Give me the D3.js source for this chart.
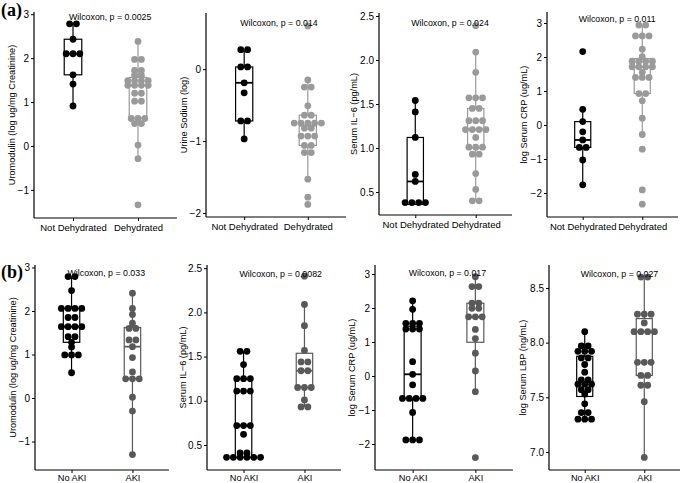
<!DOCTYPE html>
<html><head><meta charset="utf-8">
<script src="https://cdn.jsdelivr.net/npm/d3@7/dist/d3.min.js"></script>
<style>
html,body{margin:0;padding:0;background:#fff;}
svg text{font-family:"Liberation Sans",Arial,sans-serif;}
</style></head>
<body><svg id="chart" width="684" height="483"></svg>
<script>
// ---------------- DATA ----------------
const groupsA = ["Not Dehydrated", "Dehydrated"];
const groupsB = ["No AKI", "AKI"];

const uromodA_nd = [2.78, 2.78, 2.43, 2.10, 2.10, 2.10, 1.62, 1.41, 0.91];
const uromodA_d = [2.38, 1.97, 1.97, 1.72, 1.72, 1.62, 1.60, 1.52, 1.50, 1.48, 1.45, 1.40, 1.40, 1.38, 1.36,
  1.20, 1.20, 1.02, 1.02, 0.65, 0.62, 0.60, 0.52, 0.50, 0.02, -0.29, -1.34];

const sodiumA_nd = [0.27, 0.27, 0.03, 0.03, -0.19, -0.33, -0.72, -0.72, -0.97];
const sodiumA_d = [0.60, -0.15, -0.25, -0.25, -0.51, -0.64, -0.64, -0.75, -0.75, -0.75, -0.75, -0.75,
  -0.82, -0.82, -0.93, -0.93, -0.93, -1.06, -1.06, -1.16, -1.16, -1.53, -1.78, -1.88];

const il6A_nd = [1.54, 1.41, 1.12, 0.70, 0.62, 0.40, 0.36, 0.36, 0.36];
const il6A_d = [2.39, 2.09, 1.86, 1.57, 1.57, 1.57, 1.45, 1.45, 1.31, 1.31, 1.31, 1.21, 1.21, 1.21, 1.21,
  1.12, 1.02, 1.02, 1.00, 0.93, 0.93, 0.71, 0.53, 0.40, 0.40];

const crpA_nd = [2.16, 0.46, 0.10, -0.20, -0.44, -0.66, -0.66, -1.03, -1.76];
const crpA_d = [2.94, 2.94, 2.62, 2.62, 2.62, 2.23, 2.01, 1.90, 1.90, 1.88, 1.85, 1.71, 1.71, 1.71, 1.71,
  1.55, 1.40, 1.40, 1.40, 0.95, 0.90, 0.71, 0.20, -0.28, -0.71, -1.91, -2.33];

const uromodB_no = [2.79, 2.79, 2.47, 2.06, 2.06, 2.06, 2.06, 1.85, 1.85, 1.64, 1.64, 1.64, 1.64, 1.41, 1.41,
  1.28, 1.17, 0.99, 0.99, 0.99, 0.58];
const uromodB_aki = [2.41, 2.06, 1.92, 1.72, 1.62, 1.58, 1.37, 1.30, 1.18, 0.93, 0.60, 0.45, 0.45, 0.43,
  0.02, -0.30, -1.30];

const il6B_no = [1.56, 1.56, 1.41, 1.25, 1.25, 1.25, 1.11, 1.11, 1.11, 0.72, 0.72, 0.72, 0.62, 0.41, 0.41,
  0.36, 0.36, 0.36, 0.36, 0.36, 0.36];
const il6B_aki = [2.41, 2.09, 1.85, 1.57, 1.44, 1.44, 1.34, 1.34, 1.15, 1.15, 1.15, 1.01, 0.93, 0.93];

const crpB_no = [2.21, 1.96, 1.55, 1.55, 1.55, 1.38, 1.38, 1.38, 0.42, 0.05, -0.26, -0.66, -0.66, -0.66,
  -0.66, -1.07, -1.88, -1.88, -1.88];
const crpB_aki = [2.92, 2.63, 2.63, 2.14, 2.14, 1.99, 1.99, 1.74, 1.74, 1.74, 1.37, 1.10, 0.67, 0.15, -0.46, -2.40];

const lbpB_no = [8.10, 7.97, 7.97, 7.92, 7.92, 7.92, 7.86, 7.86, 7.80, 7.73, 7.66, 7.66, 7.62, 7.62, 7.62,
  7.57, 7.57, 7.53, 7.44, 7.36, 7.36, 7.30, 7.30, 7.30];
const lbpB_aki = [8.60, 8.60, 8.26, 8.26, 8.26, 8.18, 8.10, 8.10, 8.10, 8.10, 7.82, 7.82, 7.82, 7.70, 7.70,
  7.61, 7.61, 7.46, 6.95];

const yLabels = ["Uromodulin (log ug/mg Creatinine)", "Urine Sodium (log)", "Serum IL\u22126 (pg/mL)",
  "log Serum CRP (ug/mL)", "Uromodulin (log ug/mg Creatinine)", "Serum IL\u22126 (pg/mL)",
  "log Serum CRP (ug/mL)", "log Serum LBP (ng/mL)"];
const pLabels = ["Wilcoxon, p = 0.0025", "Wilcoxon, p = 0.014", "Wilcoxon, p = 0.024", "Wilcoxon, p = 0.011",
  "Wilcoxon, p = 0.033", "Wilcoxon, p = 0.0082", "Wilcoxon, p = 0.017", "Wilcoxon, p = 0.027"];
const tickSets = [
  [-1, 0, 1, 2, 3], [-2, -1, 0], [0.5, 1.0, 1.5, 2.0, 2.5], [-2, -1, 0, 1, 2, 3],
  [-1, 0, 1, 2, 3], [0.5, 1.0, 1.5, 2.0, 2.5], [-2, -1, 0, 1, 2, 3], [7.0, 7.5, 8.0, 8.5]
];
const tickFormats = ["d", "d", ".1f", "d", "d", ".1f", "d", ".1f"];
const labelYs = [2.93, 0.64, 2.42, 3.11, 2.88, 2.43, 3.02, 8.63];
const panelTags = ["(a)", "(b)"];

// ---------------- LAYOUT ----------------
const colorsA = ["#000000", "#9a9a9a"];
const colorsB = ["#000000", "#595959"];
const layouts = [
  {x0: 34, x1: 177, y0: 12, y1: 218, dom: [-1.64, 3.05], tOff: 22},
  {x0: 206, x1: 346, y0: 13, y1: 217, dom: [-2.055, 0.78], tOff: 22},
  {x0: 379, x1: 512, y0: 13, y1: 215, dom: [0.239, 2.534], tOff: 25},
  {x0: 547, x1: 678, y0: 12, y1: 217, dom: [-2.706, 3.324], tOff: 23},
  {x0: 35, x1: 169, y0: 265, y1: 470, dom: [-1.655, 3.057], tOff: 22},
  {x0: 207, x1: 341, y0: 265, y1: 470, dom: [0.217, 2.536], tOff: 24},
  {x0: 375, x1: 513, y0: 265, y1: 470, dom: [-2.765, 3.265], tOff: 23},
  {x0: 549, x1: 680, y0: 265, y1: 470, dom: [6.835, 8.71], tOff: 26}
];
const seriesSets = [
  [uromodA_nd, uromodA_d], [sodiumA_nd, sodiumA_d], [il6A_nd, il6A_d], [crpA_nd, crpA_d],
  [uromodB_no, uromodB_aki], [il6B_no, il6B_aki], [crpB_no, crpB_aki], [lbpB_no, lbpB_aki]
];

const svg = d3.select("#chart");
const R = 3.4;

function dotBins(vals, bw) {
  const s = vals.slice().sort((a, b) => a - b);
  const out = [];
  let i = 0;
  while (i < s.length) {
    const start = s[i];
    let j = i;
    while (j < s.length && s[j] < start + bw - 1e-9) j++;
    const grp = s.slice(i, j);
    out.push({center: (grp[0] + grp[grp.length - 1]) / 2, count: grp.length});
    i = j;
  }
  return out;
}

seriesSets.forEach((series, pi) => {
  const L = layouts[pi];
  const groups = pi < 4 ? groupsA : groupsB;
  const colors = pi < 4 ? colorsA : colorsB;
  const g = svg.append("g");

  const x = d3.scalePoint().domain(groups).range([L.x0, L.x1]).padding(0.6);
  const y = d3.scaleLinear().domain(L.dom).range([L.y1, L.y0]);
  const step = x.step();
  const bw = step * 0.27;

  // boxes
  series.forEach((vals, gi) => {
    const s = vals.slice().sort((a, b) => a - b);
    const q1 = d3.quantile(s, 0.25), med = d3.quantile(s, 0.5), q3 = d3.quantile(s, 0.75);
    const iqr = q3 - q1;
    const lo = d3.min(s.filter(v => v >= q1 - 1.5 * iqr));
    const hi = d3.max(s.filter(v => v <= q3 + 1.5 * iqr));
    const cx = x(groups[gi]);
    const col = colors[gi];
    g.append("line").attr("x1", cx).attr("x2", cx).attr("y1", y(q3)).attr("y2", y(hi))
      .attr("stroke", col).attr("stroke-width", 1.2);
    g.append("line").attr("x1", cx).attr("x2", cx).attr("y1", y(q1)).attr("y2", y(lo))
      .attr("stroke", col).attr("stroke-width", 1.2);
    g.append("rect").attr("x", cx - bw / 2).attr("y", y(q3)).attr("width", bw)
      .attr("height", y(q1) - y(q3)).attr("fill", "#fff").attr("stroke", col).attr("stroke-width", 1.2);
    g.append("line").attr("x1", cx - bw / 2).attr("x2", cx + bw / 2).attr("y1", y(med)).attr("y2", y(med))
      .attr("stroke", col).attr("stroke-width", 1.8);
  });

  // dots
  const pxPerUnit = Math.abs(y(1) - y(0));
  series.forEach((vals, gi) => {
    const cx = x(groups[gi]);
    const bins = dotBins(vals, (2 * R * 0.55) / pxPerUnit);
    const pts = [];
    bins.forEach(b => {
      for (let k = 0; k < b.count; k++) {
        pts.push({x: cx + (k - (b.count - 1) / 2) * 2 * R, v: b.center});
      }
    });
    g.selectAll(null).data(pts).enter().append("circle")
      .attr("cx", d => d.x).attr("cy", d => y(d.v)).attr("r", R)
      .attr("fill", colors[gi]);
  });

  // axes
  const yAxis = d3.axisLeft(y).tickValues(tickSets[pi]).tickFormat(d3.format(tickFormats[pi]))
    .tickSize(3).tickSizeOuter(0).tickPadding(2);
  const ya = g.append("g").attr("transform", `translate(${L.x0},0)`).call(yAxis);
  const xAxis = d3.axisBottom(x).tickSize(3).tickSizeOuter(0).tickPadding(pi < 4 ? 3 : 1.5);
  const xa = g.append("g").attr("transform", `translate(0,${L.y1})`).call(xAxis);
  [ya, xa].forEach(a => {
    a.select(".domain").attr("stroke", "#000").attr("stroke-width", 1.2);
    a.selectAll(".tick line").attr("stroke", "#000").attr("stroke-width", 1);
    a.selectAll(".tick text").attr("fill", "#000")
      .style("font-family", '"Liberation Sans",Arial,sans-serif');
  });
  ya.selectAll(".tick text").style("font-size", "10px");
  xa.selectAll(".tick text").style("font-size", pi < 4 ? "9.5px" : "9.2px");
  xa.select(".domain").attr("d", `M${L.x0},0H${L.x1}`);
  ya.select(".domain").attr("d", `M0,${L.y1}V${L.y0}`);

  // y title
  g.append("text")
    .attr("transform", `translate(${L.x0 - L.tOff},${(L.y0 + L.y1) / 2}) rotate(-90)`)
    .attr("text-anchor", "middle").attr("dominant-baseline", "central")
    .style("font-size", "9.2px").attr("fill", "#000").text(yLabels[pi]);

  // wilcoxon label
  g.append("text").attr("x", x(groups[0]) - 4).attr("y", y(labelYs[pi]))
    .attr("dominant-baseline", "central").style("font-size", "8.8px").attr("fill", "#000")
    .text(pLabels[pi]);
});

// panel tags
svg.append("text").attr("x", 1).attr("y", 16).text(panelTags[0])
  .style("font-family", '"Liberation Serif","Times New Roman",serif').style("font-weight", "bold")
  .style("font-size", "18px");
svg.append("text").attr("x", 1).attr("y", 278).text(panelTags[1])
  .style("font-family", '"Liberation Serif","Times New Roman",serif').style("font-weight", "bold")
  .style("font-size", "18px");
</script></body></html>
